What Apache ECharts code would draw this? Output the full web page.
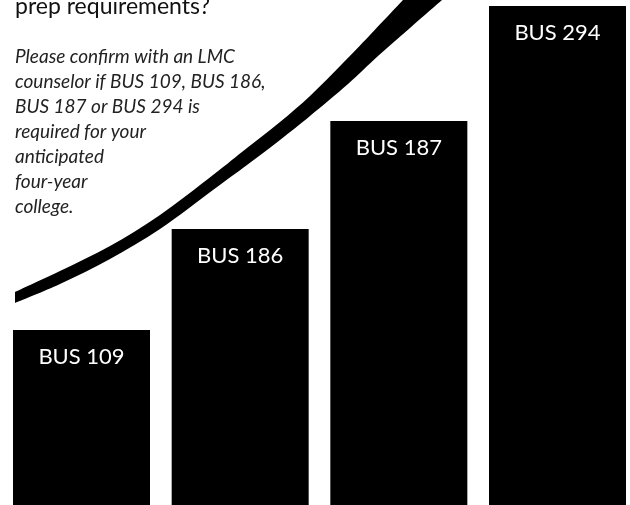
<!DOCTYPE html>
<html>
<head>
<meta charset="utf-8">
<script src="https://cdn.jsdelivr.net/npm/echarts@6/dist/echarts.min.js"></script>
<style>
  html, body { margin: 0; padding: 0; background: #fff; }
  #main { width: 630px; height: 505px; }
</style>
</head>
<body>
<div id="main"></div>
<script>
// courses and bar heights (same units as the y axis, 0 = bottom edge)
const courses = ['BUS 109', 'BUS 186', 'BUS 187', 'BUS 294']
const heights = [175, 276, 384, 499]

// swoosh outline, x across the page and height from the bottom
const swooshX = [15, 60, 110, 160, 213, 247, 280, 310, 342, 370, 403]
const swooshTop = [213, 234, 259, 290, 330, 357, 383, 409, 441, 470, 505]
const swooshLowX = [15, 60, 110, 160, 213, 247, 280, 310, 348, 378, 410, 442]
const swooshLow = [202, 221, 246, 276, 315, 340, 365, 389, 421, 449, 477, 505]

const title = 'prep requirements?'
const note = [
  'Please confirm with an LMC',
  'counselor if BUS 109, BUS 186,',
  'BUS 187 or BUS 294 is',
  'required for your',
  'anticipated',
  'four-year',
  'college.'
]

// smooth path through the points (catmull-rom turned into cubic beziers)
function curvePath(pts, first) {
  let d = (first ? 'M' : 'L') + pts[0][0] + ',' + pts[0][1]
  for (let i = 0; i < pts.length - 1; i++) {
    const p0 = pts[i - 1] || pts[i]
    const p1 = pts[i]
    const p2 = pts[i + 1]
    const p3 = pts[i + 2] || p2
    const c1 = [p1[0] + (p2[0] - p0[0]) / 6, p1[1] + (p2[1] - p0[1]) / 6]
    const c2 = [p2[0] - (p3[0] - p1[0]) / 6, p2[1] - (p3[1] - p1[1]) / 6]
    d += 'C' + c1[0] + ',' + c1[1] + ' ' + c2[0] + ',' + c2[1] + ' ' + p2[0] + ',' + p2[1]
  }
  return d
}

const chart = echarts.init(document.getElementById('main'))

chart.setOption({
  animation: false,
  backgroundColor: '#fff',
  grid: [
    { left: 2.17, right: -6.84, top: 0, bottom: 0, outerBoundsMode: 'none' },
    { left: 0, right: 0, top: 0, bottom: 0, outerBoundsMode: 'none' }
  ],
  xAxis: [
    { type: 'category', gridIndex: 0, data: courses, show: false },
    { type: 'value', gridIndex: 1, min: 0, max: 630, show: false }
  ],
  yAxis: [
    { type: 'value', gridIndex: 0, min: 0, max: 505, show: false },
    { type: 'value', gridIndex: 1, min: 0, max: 505, show: false }
  ],
  graphic: [
    {
      type: 'text', left: 15, top: -5,
      style: { text: title, font: '23px Lato', fill: '#111' }
    },
    {
      type: 'text', left: 15, top: 44,
      style: {
        text: note.join('\n'),
        font: 'italic 19px Lato',
        lineHeight: 25,
        fill: '#222'
      }
    }
  ],
  series: [
    {
      type: 'bar',
      xAxisIndex: 0, yAxisIndex: 0,
      data: heights,
      barWidth: 137,
      itemStyle: { color: '#000' },
      label: {
        show: true,
        position: 'insideTop',
        distance: 16,
        formatter: p => p.name,
        color: '#fff',
        fontFamily: 'Lato',
        fontSize: 22
      }
    },
    {
      type: 'custom',
      xAxisIndex: 1, yAxisIndex: 1,
      data: [0],
      renderItem: (params, api) => {
        const top = swooshX.map((x, i) => api.coord([x, swooshTop[i]]))
        const low = swooshLowX.map((x, i) => api.coord([x, swooshLow[i]])).reverse()
        const d = curvePath(top, true) + curvePath(low, false) + 'Z'
        return {
          type: 'path',
          shape: { pathData: d },
          style: { fill: '#000' }
        }
      }
    }
  ]
})
</script>
</body>
</html>
